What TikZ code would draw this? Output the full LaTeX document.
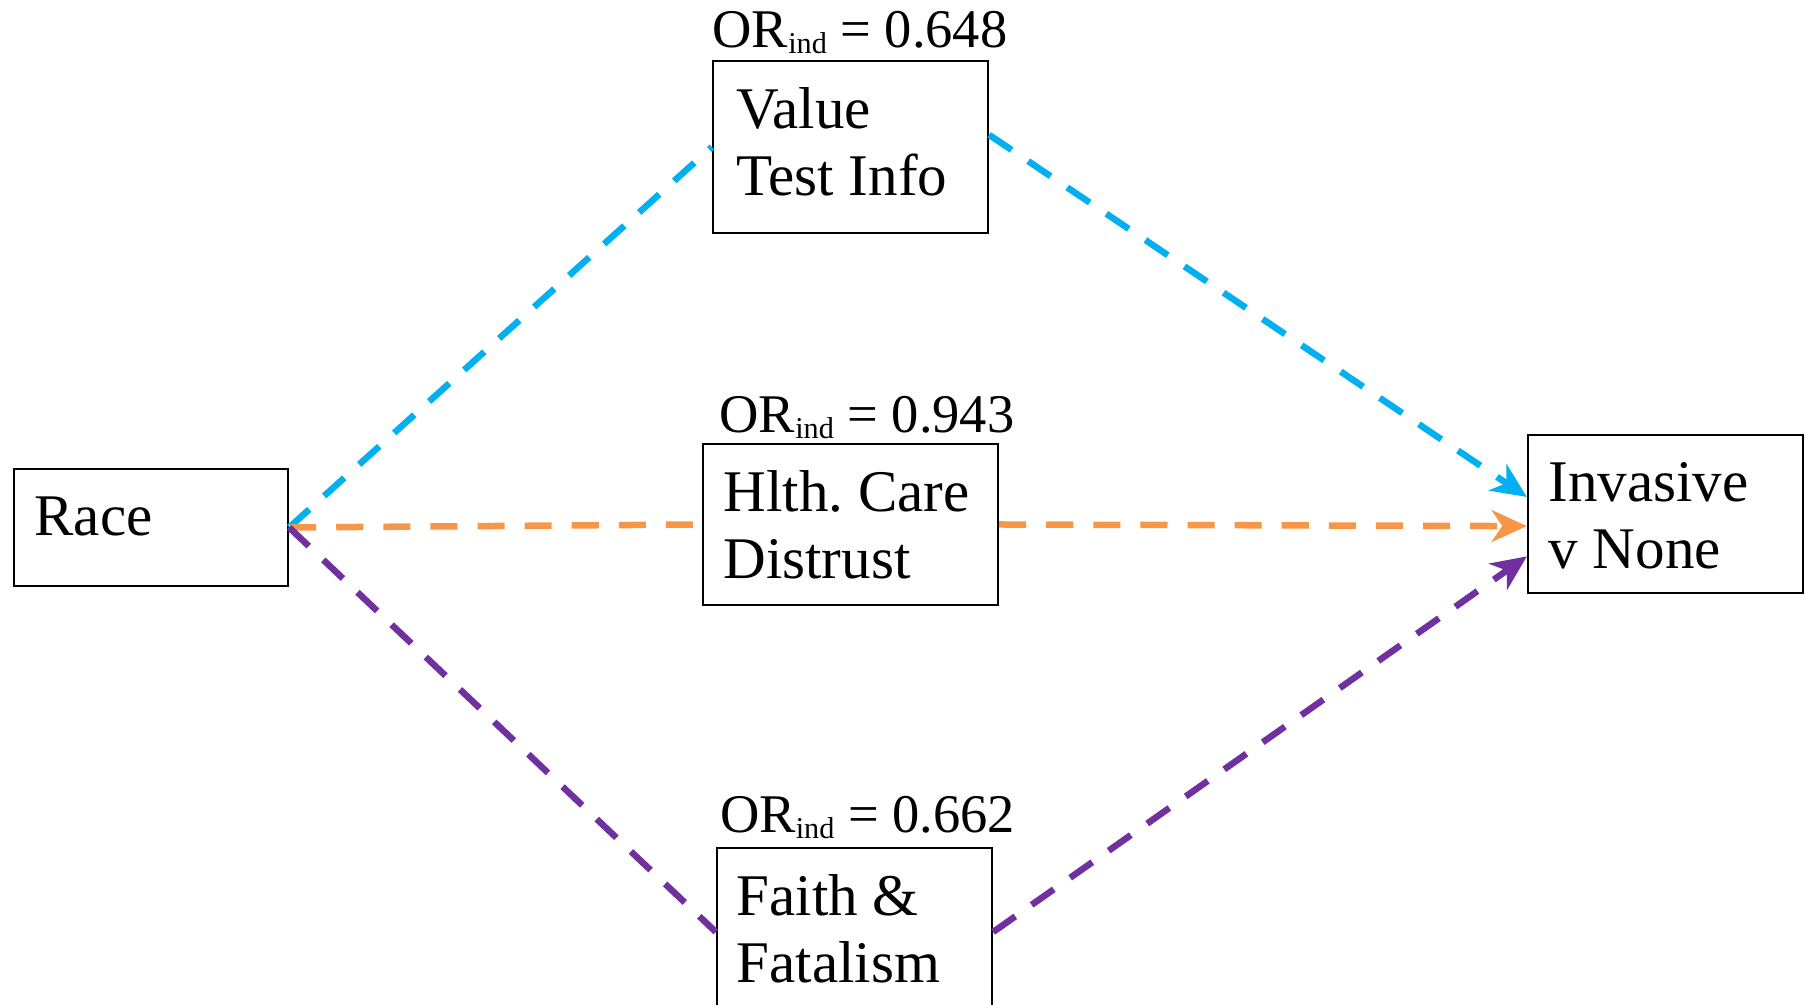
\documentclass[tikz,border=0pt]{standalone}
\usepackage{fontspec}
\setmainfont{Liberation Serif}
\usepackage{xcolor}
\usetikzlibrary{arrows.meta}

\definecolor{medblue}{RGB}{0,176,240}
\definecolor{medorange}{RGB}{247,150,70}
\definecolor{medpurple}{RGB}{112,48,160}
\newcommand{\ORind}{OR\raisebox{-0.1em}{\fontsize{8.6}{9}\selectfont ind}}

\tikzset{
  box/.style={draw, line width=0.65pt, minimum width=2.75cm, inner sep=0pt},
  boxtext/.style={anchor=north west, inner sep=0pt, align=left, font=\fontsize{16.8}{19}\selectfont},
  orlabel/.style={anchor=base, inner sep=0pt, font=\fontsize{15.5}{17}\selectfont},
  link/.style={line width=1.85pt, dash pattern=on 7.7pt off 5.7pt},
  linkarrow/.style={link, -{Stealth[length=10pt, width=9pt, inset=3pt]}}
}

\begin{document}
\begin{tikzpicture}
        \useasboundingbox (0,0) rectangle (18.06,10.05);

        % boxes
        \node[box, minimum width=2.74cm, minimum height=1.17cm] (race) at (1.51,4.775) {};
        \node[box, minimum height=1.72cm] (value) at (8.505,8.58) {};
        \node[box, minimum width=2.95cm, minimum height=1.61cm] (hlth) at (8.505,4.805) {};
        \node[box, minimum height=1.68cm] (faith) at (8.545,0.73) {};
        \node[box, minimum height=1.58cm] (inv) at (16.655,4.91) {};

        \node[boxtext] (racetext) at ([shift={(0.21,-0.28)}]race.north west) {Race};
        \node[boxtext] (valuetext) at ([shift={(0.24,-0.27)}]value.north west) {Value\\Test Info};
        \node[boxtext] (hlthtext) at ([shift={(0.21,-0.27)}]hlth.north west) {Hlth.\ Care\\Distrust};
        \node[boxtext] (faithtext) at ([shift={(0.20,-0.27)}]faith.north west) {Faith \&\\Fatalism};
        \node[boxtext] (invtext) at ([shift={(0.21,-0.28)}]inv.north west) {Invasive\\v None};

        % indirect effects
        \node[orlabel] (valueor) at (8.60,9.57) {\ORind{} = 0.648};
        \node[orlabel] (hlthor) at (8.67,5.72) {\ORind{} = 0.943};
        \node[orlabel] (faithor) at (8.675,1.72) {\ORind{} = 0.662};

        \draw[link, medblue] (race.east) -- (value.west);
        \draw[linkarrow, medblue] (value.5) -- (inv.173);
        \draw[link, medorange] (race.east) -- (hlth.west);
        \draw[linkarrow, medorange] (hlth.east) -- (inv.185);
        \draw[link, medpurple] (race.east) -- (faith.west);
        \draw[linkarrow, medpurple] (faith.east) -- (inv.197);
    \end{tikzpicture}
\end{document}
